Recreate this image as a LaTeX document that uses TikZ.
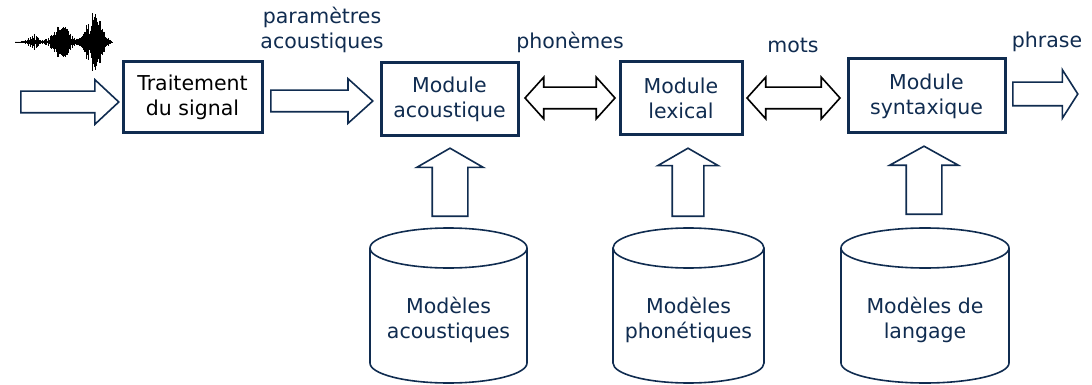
\documentclass[tikz,border=0pt]{standalone}
\usepackage{fontspec}
\setmainfont{DejaVu Sans}
\usepackage{xcolor}
\definecolor{navy}{RGB}{16,44,80}
\usetikzlibrary{shapes.arrows}
\usetikzlibrary{positioning}

\tikzset{
  module/.style={draw=navy, line width=3pt, fill=white, align=center, text=navy, inner sep=0pt},
  fat/.style={single arrow, draw=navy, line width=1.6pt, fill=white, inner xsep=0pt, anchor=tail},
  both/.style={double arrow, draw=black, line width=1.6pt, fill=white, inner xsep=0pt,
    inner ysep=10pt, double arrow head extend=10pt, double arrow tip angle=96, minimum height=90pt},
  lbl/.style={text=navy, align=center, inner sep=0pt},
}

\begin{document}
\begin{tikzpicture}[x=1pt, y=-1pt, font=\fontsize{20.5}{25}\selectfont]

    \useasboundingbox (0, 0) rectangle (1092, 385);

    % signal
    \draw [line width=0.6pt] (18, 42) -- (113, 42);
    \pgfmathsetseed{11}
    \foreach \i in {0,...,240} {
      \pgfmathsetmacro{\xx}{15+\i*0.4}
      \pgfmathsetmacro{\aa}{(0.5+9*exp(max(-9,-((\xx-33)/6)^2))+17*exp(max(-9,-((\xx-61)/11)^2))+29*exp(max(-9,-((\xx-94)/10)^2)))*(0.15+0.85*rnd)}
      \draw [line width=0.5pt] (\xx, 42-\aa) -- (\xx, 42+\aa);
    }

    \node [fat, inner ysep=10pt, single arrow head extend=11.5pt, single arrow tip angle=86,
      minimum height=98pt] (in) at (20, 102) {};
    \node [module, text=black, minimum width=139pt, minimum height=71pt] (ts) at (192.5, 97.5)
    {Traitement\\du signal};

    \node [fat, inner ysep=10pt, single arrow head extend=11.5pt, single arrow tip angle=84,
      minimum height=102pt] (pa) at (270, 101) {};
    \node [lbl] (lpa) at (322, 30) {paramètres\\acoustiques};

    \node [module, minimum width=137pt, minimum height=73pt] (ma) at (449.5, 99.5)
    {Module\\acoustique};

    \node [both] (ph) at (570, 98) {};
    \node [lbl] (lph) at (570, 42) {phonèmes};

    \node [module, minimum width=122pt, minimum height=73pt] (ml) at (681, 98.5)
    {Module\\lexical};

    \node [both, minimum height=93pt] (mo) at (793.5, 98) {};
    \node [lbl] (lmo) at (793, 45) {mots};

    \node [module, minimum width=157pt, minimum height=74pt] (ms) at (926.5, 96)
    {Module\\syntaxique};

    \node [fat, inner ysep=11pt, single arrow head extend=12.5pt, single arrow tip angle=115,
      minimum height=65pt] (out) at (1012, 94) {};
    \node [lbl] (lout) at (1047, 42) {phrase};

    % bases
    \foreach \cx/\w/\name/\txt in {448.5/78.5/ac/Modèles\\acoustiques,
        688.5/75.5/pn/Modèles\\phonétiques, 925/84/lg/Modèles de\\langage} {
      \draw [navy, line width=1.6pt, fill=white] (\cx-\w, 248) -- (\cx-\w, 363)
        arc (180:360:\w pt and 20pt) -- (\cx+\w, 248);
      \draw [navy, line width=1.6pt] (\cx, 248) ellipse (\w pt and 20pt);
      \node [lbl] (\name) at (\cx, 320) {\txt};
    }

    \node [fat, rotate=90, inner ysep=17pt, single arrow head extend=15.5pt,
      single arrow tip angle=120, minimum height=68pt] (uac) at (450, 217) {};
    \node [fat, rotate=90, inner ysep=15pt, single arrow head extend=14.5pt,
      single arrow tip angle=120, minimum height=68pt] (upn) at (688, 217) {};
    \node [fat, rotate=90, inner ysep=17pt, single arrow head extend=16.5pt,
      single arrow tip angle=122, minimum height=68pt] (ulg) at (924, 215) {};

  \end{tikzpicture}
\end{document}
